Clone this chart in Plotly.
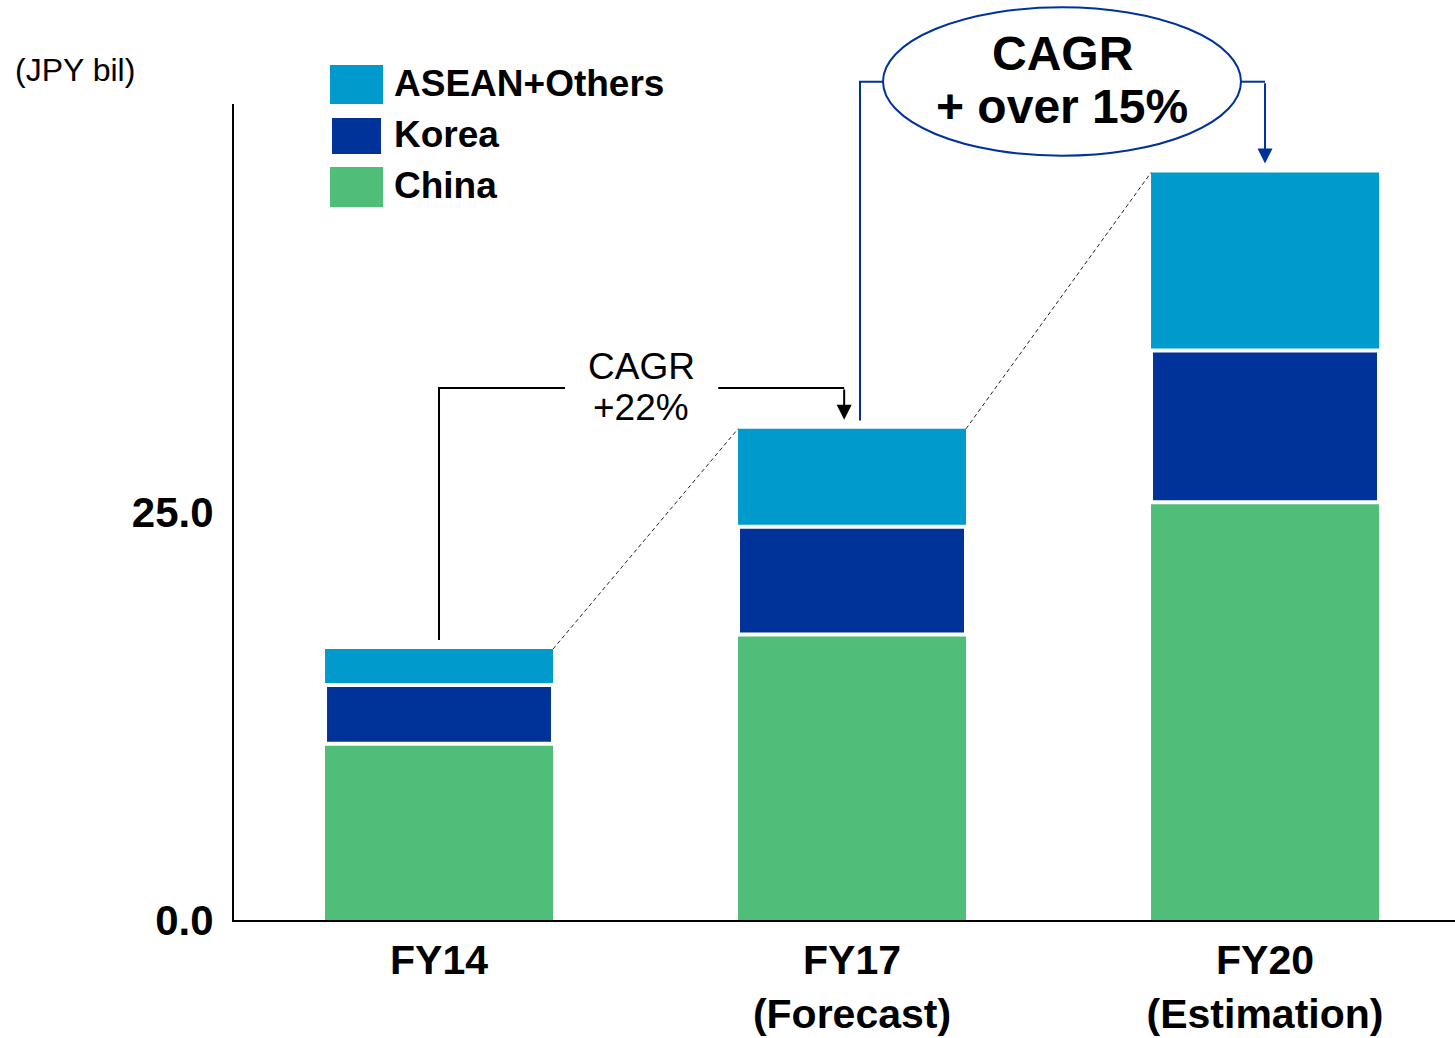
import plotly.graph_objects as go

# ---- data (JPY bil) ----
periods = ["FY14", "FY17<br>(Forecast)", "FY20<br>(Estimation)"]
china = [10.8, 17.5, 25.6]
korea = [3.6, 6.6, 9.3]
asean_others = [2.2, 6.0, 10.9]
y_ticks = [0, 25]
y_tick_labels = ["0.0", "25.0"]

# ---- styling ----
C_ASEAN = "#009BCC"
C_KOREA = "#003399"
C_CHINA = "#4EBE79"
FONT = "Liberation Sans, Arial, sans-serif"

W, H = 1455, 1038
M_L, M_R, M_T, M_B = 234, 0, 104, 118
BAR_W = 0.552
X_RANGE = [-0.4964, 2.46]
Y_RANGE = [0, 50]


def px(xp):
    """Horizontal page pixel -> paper fraction."""
    return (xp - M_L) / (W - M_L - M_R)


def py(yp):
    """Vertical page pixel -> paper fraction."""
    return (H - M_B - yp) / (H - M_T - M_B)


x = list(range(len(periods)))
korea_base = china[:]
asean_base = [c + k for c, k in zip(china, korea)]
totals = [c + k + a for c, k, a in zip(china, korea, asean_others)]

fig = go.Figure()

# stacked columns drawn with explicit bases so the Korea block (with its white
# outline) sits on top of its neighbours
fig.add_trace(go.Bar(x=x, y=china, width=BAR_W, name="China",
                     marker=dict(color=C_CHINA, line=dict(width=0))))
fig.add_trace(go.Bar(x=x, y=asean_others, base=asean_base, width=BAR_W,
                     name="ASEAN+Others",
                     marker=dict(color=C_ASEAN, line=dict(width=0))))
fig.add_trace(go.Bar(x=x, y=korea, base=korea_base, width=BAR_W, name="Korea",
                     marker=dict(color=C_KOREA, line=dict(color="white", width=4))))

# dashed guides joining the column tops
for i in range(len(x) - 1):
    fig.add_trace(go.Scatter(
        x=[x[i] + BAR_W / 2, x[i + 1] - BAR_W / 2],
        y=[totals[i], totals[i + 1]],
        mode="lines", line=dict(color="#222222", width=1, dash="4px,3px"),
        hoverinfo="skip", showlegend=False))

shapes = []
annotations = []

# ---- CAGR +22% bracket (FY14 -> FY17) ----
GAP = 0.55
BR_Y = 32.6
shapes.append(dict(type="path", xref="x", yref="y",
                   path=f"M 0,{totals[0] + GAP} L 0,{BR_Y} L 0.305,{BR_Y}",
                   line=dict(color="black", width=2)))
shapes.append(dict(type="path", xref="x", yref="y",
                   path=f"M 0.676,{BR_Y} L 0.981,{BR_Y}",
                   line=dict(color="black", width=2)))
annotations.append(dict(x=0.981, y=totals[1] + GAP, xref="x", yref="y",
                        ax=0.981, ay=BR_Y, axref="x", ayref="y", text="",
                        showarrow=True, arrowhead=2, arrowsize=1.5,
                        arrowwidth=2, arrowcolor="black", standoff=0))
annotations.append(dict(x=0.49, y=33.9, xref="x", yref="y", text="CAGR",
                        showarrow=False, xanchor="center", yanchor="middle",
                        font=dict(family=FONT, size=37, color="black")))
annotations.append(dict(x=0.49, y=31.4, xref="x", yref="y", text="+22%",
                        showarrow=False, xanchor="center", yanchor="middle",
                        font=dict(family=FONT, size=37, color="black")))

# ---- CAGR over 15% callout (FY17 -> FY20) ----
shapes.append(dict(type="circle", xref="paper", yref="paper",
                   x0=px(883), x1=px(1241), y0=py(155.7), y1=py(7.3),
                   line=dict(color=C_KOREA, width=2), fillcolor="rgba(0,0,0,0)"))
shapes.append(dict(type="path", xref="paper", yref="paper",
                   path=(f"M {px(883)},{py(81.7)} L {px(860)},{py(81.7)} "
                         f"L {px(860)},{py(920 - (totals[1] + 0.5) * 16.32)}"),
                   line=dict(color=C_KOREA, width=2)))
shapes.append(dict(type="path", xref="paper", yref="paper",
                   path=f"M {px(1241)},{py(81.7)} L {px(1265)},{py(81.7)}",
                   line=dict(color=C_KOREA, width=2)))
annotations.append(dict(x=2, y=totals[2] + GAP, xref="x", yref="y",
                        ax=2, ay=51.37, axref="x", ayref="y", text="",
                        showarrow=True, arrowhead=2, arrowsize=1.5,
                        arrowwidth=2, arrowcolor=C_KOREA, standoff=0))
annotations.append(dict(x=px(1062), y=py(53.5), xref="paper", yref="paper",
                        text="CAGR", showarrow=False, xanchor="center",
                        yanchor="middle",
                        font=dict(family=FONT, size=48, color="black", weight="bold")))
annotations.append(dict(x=px(1062), y=py(106), xref="paper", yref="paper",
                        text="+ over 15%", showarrow=False, xanchor="center",
                        yanchor="middle",
                        font=dict(family=FONT, size=48, color="black", weight="bold")))

# ---- unit label ----
annotations.append(dict(x=px(13), y=py(70), xref="paper", yref="paper",
                        text="(JPY bil)", showarrow=False, xanchor="left",
                        yanchor="middle",
                        font=dict(family=FONT, size=32, color="black")))

# ---- legend (large swatches) ----
legend_items = [
    ("ASEAN+Others", C_ASEAN, (330, 65, 383, 104), 83),
    ("Korea", C_KOREA, (332, 118, 381, 154), 135),
    ("China", C_CHINA, (330, 167, 383, 207), 185),
]
for label, color, (x0, y0, x1, y1), yc in legend_items:
    shapes.append(dict(type="rect", xref="paper", yref="paper",
                       x0=px(x0), x1=px(x1), y0=py(y1), y1=py(y0),
                       fillcolor=color, line=dict(width=0)))
    annotations.append(dict(x=px(392), y=py(yc), xref="paper", yref="paper",
                            text=label, showarrow=False, xanchor="left",
                            yanchor="middle",
                            font=dict(family=FONT, size=37, color="black",
                                      weight="bold")))

fig.update_layout(
    width=W, height=H,
    margin=dict(l=M_L, r=M_R, t=M_T, b=M_B, pad=0, autoexpand=False),
    paper_bgcolor="white", plot_bgcolor="white",
    barmode="overlay", showlegend=False,
    shapes=shapes, annotations=annotations,
    xaxis=dict(range=X_RANGE, tickvals=x, ticktext=periods, automargin=False,
               showline=True, linecolor="black", linewidth=2,
               showgrid=False, zeroline=False, ticks="",
               ticklabelstandoff=3,
               tickfont=dict(family=FONT, size=41, color="black", weight="bold")),
    yaxis=dict(range=Y_RANGE, tickvals=y_ticks, ticktext=y_tick_labels,
               automargin=False,
               showline=True, linecolor="black", linewidth=2,
               showgrid=False, zeroline=False, ticks="",
               ticklabelstandoff=10,
               tickfont=dict(family=FONT, size=42, color="black", weight="bold")),
)

fig.write_html("out.html")
